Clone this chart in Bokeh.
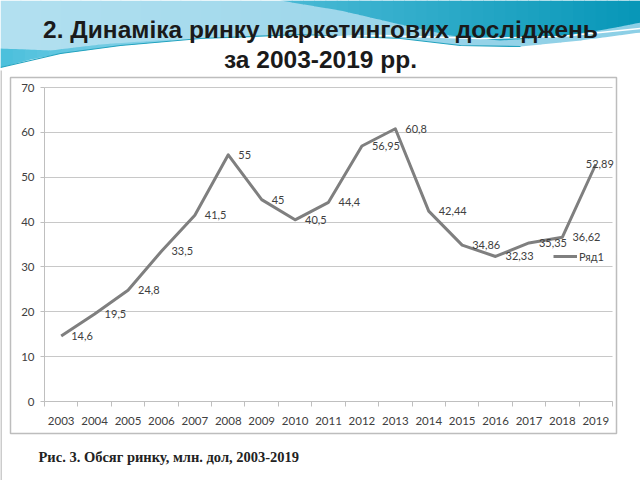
import numpy as np
from bokeh.plotting import figure
from bokeh.models import (ColumnDataSource, FixedTicker, Legend, LegendItem, Range1d,
                          LinearAxis, Grid)
from bokeh.core.properties import value
from bokeh.embed import file_html
from bokeh.resources import INLINE

# ---------------- data ----------------
years = [2003, 2004, 2005, 2006, 2007, 2008, 2009, 2010, 2011,
         2012, 2013, 2014, 2015, 2016, 2017, 2018, 2019]
market = [14.6, 19.5, 24.8, 33.5, 41.5, 55, 45, 40.5, 44.4,
          56.95, 60.8, 42.44, 34.86, 32.33, 35.35, 36.62, 52.89]
y_ticks = [0, 10, 20, 30, 40, 50, 60, 70]
series_name = "Ряд1"
title_lines = ["2. Динаміка ринку маркетингових досліджень", "за 2003-2019 рр."]
caption = "Рис. 3.  Обсяг ринку, млн. дол, 2003-2019"

# ---------------- layout (pixels, y measured from top) ----------------
W, H = 640, 480
FL, FR, FT, FB = 44, 612, 87, 401          # plot area of the chart
BOX = (10, 616, 77, 433)                   # chart-area border: left, right, top, bottom
TXT = "#404040"
GRID = "#c8c8c8"
AX = "#bfbfbf"

# slide canvas in pixel space
p = figure(width=W, height=H, output_backend="svg", toolbar_location=None,
           x_range=Range1d(0, W), y_range=Range1d(H, 0),
           x_axis_type=None, y_axis_type=None, min_border=0,
           border_fill_color="white", background_fill_color="white",
           outline_line_color=None)
p.title.visible = False
p.grid.visible = False

# chart scales mapped onto the plot area
x0, x1 = years[0] - 0.5, years[-1] + 0.5
y0, y1 = y_ticks[0], y_ticks[-1]
kx = (FR - FL) / (x1 - x0)
ky = (FB - FT) / (y1 - y0)
p.extra_x_ranges = {"cx": Range1d(x0 - FL / kx, x1 + (W - FR) / kx)}
p.extra_y_ranges = {"cy": Range1d(y0 - (H - FB) / ky, y1 + FT / ky)}

# ---------------- slide decoration ----------------
def lerp_color(c1, c2, t):
    a = [int(c1[i:i + 2], 16) for i in (1, 3, 5)]
    b = [int(c2[i:i + 2], 16) for i in (1, 3, 5)]
    return "#%02x%02x%02x" % tuple(int(round(a[k] + (b[k] - a[k]) * t)) for k in range(3))

def band(xa0, xa1, top_pts, bot_pts, c1, c2, n=32):
    edges = np.linspace(xa0, xa1, n + 1)
    pxs, pys, cols = [], [], []
    for i in range(n):
        xs = np.linspace(edges[i], edges[i + 1] + 0.8, 5)
        top = np.interp(xs, *top_pts)
        bot = np.interp(xs, *bot_pts)
        pxs.append(list(xs) + list(xs[::-1]))
        pys.append(list(top) + list(bot[::-1]))
        cols.append(lerp_color(c1, c2, i / max(n - 1, 1)))
    rr = p.patches(pxs, pys, fill_color=cols, line_color=None)
    rr.level = "image"

zero = ([0, W], [0, 0])
base_bot = ([0, 30, 60, 120, 200, 300, 400, 460, 520, 580, 640],
            [67, 59, 53, 45, 38, 34, 38, 45, 46, 40, 32])
# pale blue sweep
band(0, W, zero, base_bot, "#b2e0f0", "#8ccfe6")
# saturated cyan crescent at the lower left
band(0, 170, ([0, 50, 100, 170], [48, 50, 44, 39]), base_bot, "#4cc0dc", "#8ad2e8", n=14)
# teal sweep at the top right
band(280, W, zero,
     ([280, 340, 400, 450, 500, 560, 610, 640],
      [0, 10, 24, 35, 40, 36, 28, 22]),
     "#49b9d5", "#0897b8")
for (lx, ly), col, lw in [
    (([0, 60, 120, 200, 300, 400, 460, 520], [67, 53, 45, 38, 34, 38, 45, 46]), "#23a3bf", 1.2),
    (([30, 100, 180, 280, 380, 480, 560, 640], [62, 50, 42, 37, 35, 38, 36, 28]), "#ffffff", 1.6),
]:
    rr = p.line(lx, ly, line_color=col, line_width=lw)
    rr.level = "image"

# thin slide edge on the left
rr = p.line([0.5, 0.5], [70, H], line_color="#9a9a9a", line_width=1)
rr.level = "image"

# chart-area box
bl, br, bt, bb = BOX
rr = p.quad(left=bl, right=br, top=bt, bottom=bb, fill_color="white",
            line_color="#bdbdbd", line_width=1.5)
rr.level = "image"

# ---------------- axes & grid ----------------
bounds = [y - 0.5 for y in years] + [years[-1] + 0.5]
xaxis = LinearAxis(x_range_name="cx", y_range_name="cy", fixed_location=y0,
                   bounds=(x0, x1),
                   ticker=FixedTicker(ticks=years, minor_ticks=bounds))
xaxis.major_label_overrides = {y: str(y) for y in years}
xaxis.major_tick_line_color = None
xaxis.minor_tick_line_color = AX
xaxis.minor_tick_out = 5
xaxis.minor_tick_in = 0
xaxis.axis_line_color = AX
xaxis.major_label_standoff = 9

yaxis = LinearAxis(x_range_name="cx", y_range_name="cy", fixed_location=x0,
                   bounds=(y0, y1), ticker=FixedTicker(ticks=y_ticks))
yaxis.minor_tick_line_color = None
yaxis.major_tick_line_color = AX
yaxis.major_tick_out = 4
yaxis.major_tick_in = 0
yaxis.axis_line_color = AX
yaxis.major_label_standoff = 6

for ax in (xaxis, yaxis):
    ax.major_label_text_font = "Lato"
    ax.major_label_text_font_size = "11.5px"
    ax.major_label_text_color = TXT
p.add_layout(xaxis, "below")
p.add_layout(yaxis, "left")

grid = Grid(dimension=1, ticker=FixedTicker(ticks=y_ticks),
            x_range_name="cx", y_range_name="cy",
            bounds=(y0, y1), cross_bounds=(x0, x1),
            grid_line_color=GRID, grid_line_width=1.2)
p.add_layout(grid)

# ---------------- series ----------------
r = p.line(years, market, line_color="#7f7f7f", line_width=3, line_join="round",
           x_range_name="cx", y_range_name="cy")

texts = [f"{v:g}".replace(".", ",") for v in market]
dx = [10] * len(market)
dx[-1] = -10  # last label pushed inside the chart area
lab_src = ColumnDataSource(dict(x=years, y=market, text=texts, dx=dx))
p.text(x="x", y="y", text="text", x_offset="dx", source=lab_src,
       x_range_name="cx", y_range_name="cy",
       text_font=value("Lato"), text_font_size="11px", text_color=TXT,
       text_align="left", text_baseline="middle")

legend = Legend(items=[LegendItem(label=series_name, renderers=[r])],
                location=(553, H - 256 - 8), padding=0, margin=0, spacing=0,
                glyph_width=24, glyph_height=16, label_height=16,
                label_standoff=2, border_line_color=None,
                background_fill_alpha=0, label_text_font="Lato",
                label_text_font_size="11px", label_text_color=TXT)
p.add_layout(legend)

# ---------------- titles ----------------
p.text(x=[W / 2] * len(title_lines), y=[29, 59], text=title_lines,
       text_font=value("Liberation Sans"), text_font_style="bold",
       text_font_size="24.5px", text_color="#1a1a1a",
       text_align="center", text_baseline="middle")
p.text(x=[38], y=[456], text=[caption],
       text_font=value("Liberation Serif"), text_font_style="bold",
       text_font_size="14.5px", text_color="#222222",
       text_align="left", text_baseline="middle")

open("out.html", "w").write(file_html(p, INLINE))
